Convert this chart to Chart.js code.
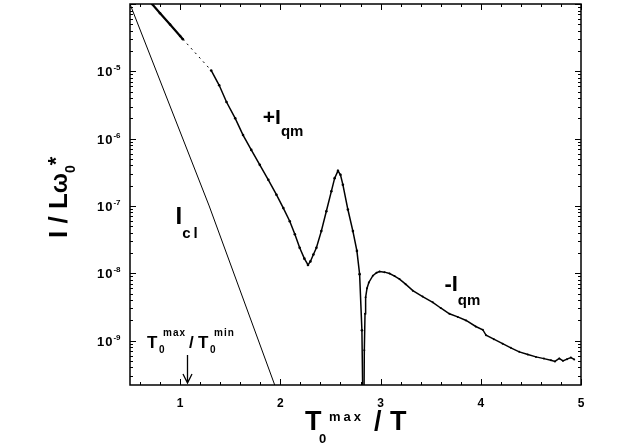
<!DOCTYPE html>
<html>
<head>
<meta charset="utf-8">
<script src="https://cdn.jsdelivr.net/npm/chart.js@4.4.1/dist/chart.umd.min.js"></script>
<style>
  html, body { margin: 0; padding: 0; background: #fff; }
  canvas { display: block; }
</style>
</head>
<body>
<canvas id="myChart" width="628" height="445"></canvas>
<script>
// values (x = T0max / T, y = I / L w0*)
var iclX = [0.5, 1.29, 1.944];
var iclY = [1.0e-4, 1.0e-7, 2.19e-10];

var qmPosX1 = [0.72, 0.80, 0.90, 1.0, 1.028];
var qmPosY1 = [1.0e-4, 7.3e-5, 4.95e-5, 3.35e-5, 3.0e-5];

var gapX = [1.028, 1.31];
var gapY = [3.0e-5, 1.03e-5];

var qmPosX2 = [1.31, 1.39, 1.463, 1.55, 1.628, 1.71, 1.795, 1.88, 1.961, 2.03, 2.094, 2.145, 2.193, 2.24, 2.276,
  2.30, 2.33, 2.36, 2.409, 2.459, 2.509, 2.542, 2.575, 2.60, 2.624, 2.674, 2.724, 2.764, 2.791, 2.814, 2.824];
var qmPosY2 = [1.03e-5, 6.2e-6, 3.5e-6, 2.0e-6, 1.13e-6, 6.8e-7, 4.08e-7, 2.45e-7, 1.47e-7, 9.3e-8, 5.94e-8, 3.8e-8, 2.4e-8, 1.65e-8, 1.33e-8,
  1.5e-8, 1.9e-8, 2.4e-8, 4.23e-8, 8.36e-8, 1.65e-7, 2.59e-7, 3.32e-7, 2.9e-7, 2.07e-7, 8.85e-8, 4.23e-8, 2.15e-8, 9.7e-9, 1.42e-9, 1.0e-10];

var qmNegX = [2.834, 2.838, 2.845, 2.851, 2.865, 2.883, 2.923, 2.96, 2.99, 3.04, 3.09, 3.14, 3.189, 3.25, 3.322, 3.42,
  3.521, 3.60, 3.687, 3.77, 3.854, 3.95, 4.02, 4.053, 4.13, 4.218, 4.30, 4.384, 4.47, 4.551, 4.63, 4.70, 4.74, 4.783,
  4.82, 4.86, 4.899, 4.932];
var qmNegY = [1.0e-10, 7.2e-10, 2.5e-9, 4.4e-9, 6.0e-9, 7.3e-9, 9.2e-9, 1.02e-8, 1.06e-8, 1.04e-8, 9.9e-9, 9.1e-9, 8.2e-9, 6.9e-9, 5.52e-9, 4.5e-9,
  3.71e-9, 3.05e-9, 2.5e-9, 2.25e-9, 1.99e-9, 1.62e-9, 1.45e-9, 1.2e-9, 1.05e-9, 9.0e-10, 7.8e-10, 6.8e-10, 6.2e-10, 5.73e-10, 5.4e-10, 5.12e-10, 4.9e-10, 5.43e-10,
  5.0e-10, 5.3e-10, 5.61e-10, 5.25e-10];

var xTickLabels = [1, 2, 3, 4, 5];
var yTickExps = [-5, -6, -7, -8, -9];
var arrowX = 1.07;

var FONT = 'Arial, "Liberation Sans", sans-serif';

function pts(xs, ys) {
  return xs.map((x, i) => ({ x: x, y: ys[i] }));
}

// draw text pieces one after another: [text, size, dy, letterSpacing]
function rich(ctx, x, y, parts) {
  parts.forEach(p => {
    ctx.font = 'bold ' + p[1] + 'px ' + FONT;
    ctx.letterSpacing = (p[3] || 0) + 'px';
    ctx.fillText(p[0], x, y + (p[2] || 0));
    x += ctx.measureText(p[0]).width;
  });
  ctx.letterSpacing = '0px';
}

var axesPlugin = {
  id: 'axesPlugin',
  afterDatasetsDraw(chart) {
    var ctx = chart.ctx, a = chart.chartArea;
    var xs = chart.scales.x, ys = chart.scales.y;
    ctx.save();
    ctx.strokeStyle = '#000';
    ctx.fillStyle = '#000';

    // inward ticks on all four sides
    ctx.lineWidth = 1;
    ctx.beginPath();
    for (var k = 3; k <= 25; k++) {
      var px = Math.round(xs.getPixelForValue(k / 5)) + 0.5;
      var len = (k % 5 === 0) ? 6 : 3;
      ctx.moveTo(px, a.bottom); ctx.lineTo(px, a.bottom - len);
      ctx.moveTo(px, a.top); ctx.lineTo(px, a.top + len);
    }
    for (var e = -10; e <= -4; e++) {
      for (var m = 1; m <= 9; m++) {
        var v = m * Math.pow(10, e);
        if (v < ys.min || v > ys.max) continue;
        var py = Math.round(ys.getPixelForValue(v)) + 0.5;
        var l2 = (m === 1) ? 6 : 3;
        ctx.moveTo(a.left, py); ctx.lineTo(a.left + l2, py);
        ctx.moveTo(a.right, py); ctx.lineTo(a.right - l2, py);
      }
    }
    ctx.stroke();

    ctx.lineWidth = 1.5;
    ctx.strokeRect(a.left, a.top, a.right - a.left, a.bottom - a.top);

    // tick labels
    ctx.textBaseline = 'alphabetic';
    ctx.textAlign = 'center';
    ctx.font = 'bold 12px ' + FONT;
    xTickLabels.forEach(t => {
      ctx.fillText(String(t), xs.getPixelForValue(t), a.bottom + 22);
    });
    ctx.textAlign = 'left';
    yTickExps.forEach(ex => {
      var py = ys.getPixelForValue(Math.pow(10, ex));
      rich(ctx, a.left - 33, py + 5, [['10', 13, 0, 1], [String(ex), 8, -6]]);
    });

    // axis titles
    rich(ctx, 305, 430, [['T', 27]]);
    rich(ctx, 319, 443, [['0', 13]]);
    rich(ctx, 329, 421, [['max', 13, 0, 3]]);
    rich(ctx, 374, 430, [['/', 27]]);
    rich(ctx, 390, 430, [['T', 27]]);

    ctx.save();
    ctx.translate(67, 238);
    ctx.rotate(-Math.PI / 2);
    rich(ctx, 0, 0, [['I / L', 26], ['\u03c9', 24], ['0', 14, 8], ['*', 22, -4]]);
    ctx.restore();

    // curve labels, anchored to data coordinates
    var p = (x, y) => [xs.getPixelForValue(x), ys.getPixelForValue(y)];
    var q = p(1.825, 1.66e-6);
    rich(ctx, q[0], q[1], [['+I', 21], ['qm', 15, 12]]);
    q = p(0.955, 5.37e-8);
    rich(ctx, q[0], q[1], [['I', 24], ['cl', 15, 14, 3]]);
    q = p(3.637, 5.52e-9);
    rich(ctx, q[0], q[1], [['-I', 22], ['qm', 15, 14]]);

    q = p(0.67, 7.7e-10);
    rich(ctx, q[0], q[1], [['T', 17]]);
    rich(ctx, q[0] + 12, q[1] + 5, [['0', 10]]);
    rich(ctx, q[0] + 16, q[1] - 12, [['max', 10, 0, 1]]);
    rich(ctx, q[0] + 42, q[1], [['/', 17]]);
    rich(ctx, q[0] + 51, q[1], [['T', 17]]);
    rich(ctx, q[0] + 63, q[1] + 5, [['0', 10]]);
    rich(ctx, q[0] + 67, q[1] - 12, [['min', 10, 0, 1]]);

    // arrow pointing at T0max / T0min
    var ax = Math.round(xs.getPixelForValue(arrowX)) + 0.5;
    ctx.lineWidth = 1.3;
    ctx.beginPath();
    ctx.moveTo(ax, a.bottom - 30); ctx.lineTo(ax, a.bottom - 2);
    ctx.moveTo(ax - 4.5, a.bottom - 11); ctx.lineTo(ax, a.bottom - 2); ctx.lineTo(ax + 4.5, a.bottom - 11);
    ctx.stroke();
    ctx.restore();
  }
};

var qmStyle = {
  showLine: true,
  borderColor: '#000',
  backgroundColor: '#000',
  borderWidth: 1.5,
  pointRadius: 1.3,
  pointBorderWidth: 0,
  tension: 0
};

var ctx = document.getElementById('myChart').getContext('2d');
var chart = new Chart(ctx, {
  type: 'scatter',
  data: {
    datasets: [
      { label: 'Icl', data: pts(iclX, iclY), showLine: true, borderColor: '#000', borderWidth: 1, pointRadius: 0 },
      Object.assign({ label: '+Iqm', data: pts(qmPosX1, qmPosY1) }, qmStyle, { borderWidth: 2.2 }),
      { label: 'gap', data: pts(gapX, gapY), showLine: true, borderColor: '#000', borderWidth: 1, borderDash: [2, 4], pointRadius: 0 },
      Object.assign({ label: '+Iqm', data: pts(qmPosX2, qmPosY2) }, qmStyle),
      Object.assign({ label: '-Iqm', data: pts(qmNegX, qmNegY) }, qmStyle, { pointRadius: 1 })
    ]
  },
  options: {
    responsive: false,
    animation: false,
    devicePixelRatio: 1,
    layout: { padding: { left: 130, top: 1, right: 47, bottom: 60 } },
    plugins: { legend: { display: false }, tooltip: { enabled: false } },
    scales: {
      x: { type: 'linear', min: 0.5, max: 5, display: false },
      y: { type: 'logarithmic', min: 2.19e-10, max: 1e-4, display: false }
    }
  },
  plugins: [axesPlugin]
});
</script>
</body>
</html>
